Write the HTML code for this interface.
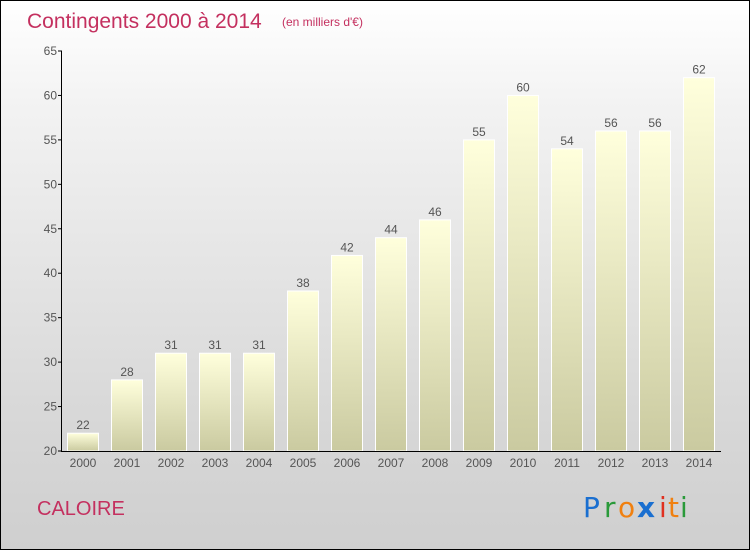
<!DOCTYPE html>
<html><head><meta charset="utf-8"><style>
body{margin:0}
#c{width:750px;height:550px;position:relative;box-sizing:border-box;border:1px solid #000;background:linear-gradient(#fff,#f2f2f2 20%,#d8d8d8 75%,#cfcfcf);overflow:hidden;font-family:"Liberation Sans",sans-serif}
</style></head><body>
<div id="c">
<svg width="750" height="550" style="position:absolute;left:0;top:0" id="s">
<defs><linearGradient id="g" x1="0" y1="0" x2="0" y2="1"><stop offset="0" stop-color="#ffffdc"/><stop offset="1" stop-color="#cacaa0"/></linearGradient></defs>
<text x="26" y="27" font-size="21" fill="#c4305f">Contingents 2000 à 2014</text>
<text x="281" y="25" font-size="12" fill="#c4305f">(en milliers d'€)</text>
<text x="36" y="514" font-size="20" fill="#c4305f">CALOIRE</text>
<g font-size="28" font-family="'DejaVu Sans',sans-serif">
<text x="582" y="516" fill="#1a6fd0">P</text><text x="603" y="516" fill="#2a9a3a">r</text><text x="617" y="516" fill="#f08010">o</text><text x="636" y="516" fill="#1a6fd0" font-weight="bold">x</text><text x="658" y="516" fill="#e03020">i</text><text x="667" y="516" fill="#f08010">t</text><text x="679" y="516" fill="#2a9a3a">i</text></g>
</svg>
</div>
<script>
const years=["2000","2001","2002","2003","2004","2005","2006","2007","2008","2009","2010","2011","2012","2013","2014"];
const values=[22,28,31,31,31,38,42,44,46,55,60,54,56,56,62];
const yTicks=[20,25,30,35,40,45,50,55,60,65];
const s=document.getElementById('s');
const NS='http://www.w3.org/2000/svg';
const y0=450,yTop=50,vMin=20,vMax=65;
const Y=v=>y0-(v-vMin)*(y0-yTop)/(vMax-vMin);
const X=i=>82+i*44;
function mk(t,a){const e=document.createElementNS(NS,t);for(const k in a)e.setAttribute(k,a[k]);s.appendChild(e);return e;}
values.forEach((v,i)=>{
 const r=mk('rect',{x:X(i)-15.5,y:Y(v),width:31,height:y0-Y(v),fill:'url(#g)',stroke:'#fff','stroke-width':1});
 
 
 const t=mk('text',{x:X(i),y:Y(v)-4,'text-anchor':'middle','font-size':12,fill:'#555'});
 t.textContent=v;
 
 
 const xl=mk('text',{x:X(i),y:466,'text-anchor':'middle','font-size':12,fill:'#555'});
 xl.textContent=years[i];
 
 
});
yTicks.forEach(v=>{
 const tk=mk('line',{x1:57,x2:61,y1:Y(v),y2:Y(v),stroke:'#000'});
 
 
 const t=mk('text',{x:56,y:Y(v)+4,'text-anchor':'end','font-size':12,fill:'#555'});
 t.textContent=v;
 
 
});
const ya=mk('line',{x1:60.5,x2:60.5,y1:yTop,y2:y0,stroke:'#000'});


const xa=mk('line',{x1:60,x2:720,y1:y0+0.5,y2:y0+0.5,stroke:'#000'});


</script>
</body></html>
